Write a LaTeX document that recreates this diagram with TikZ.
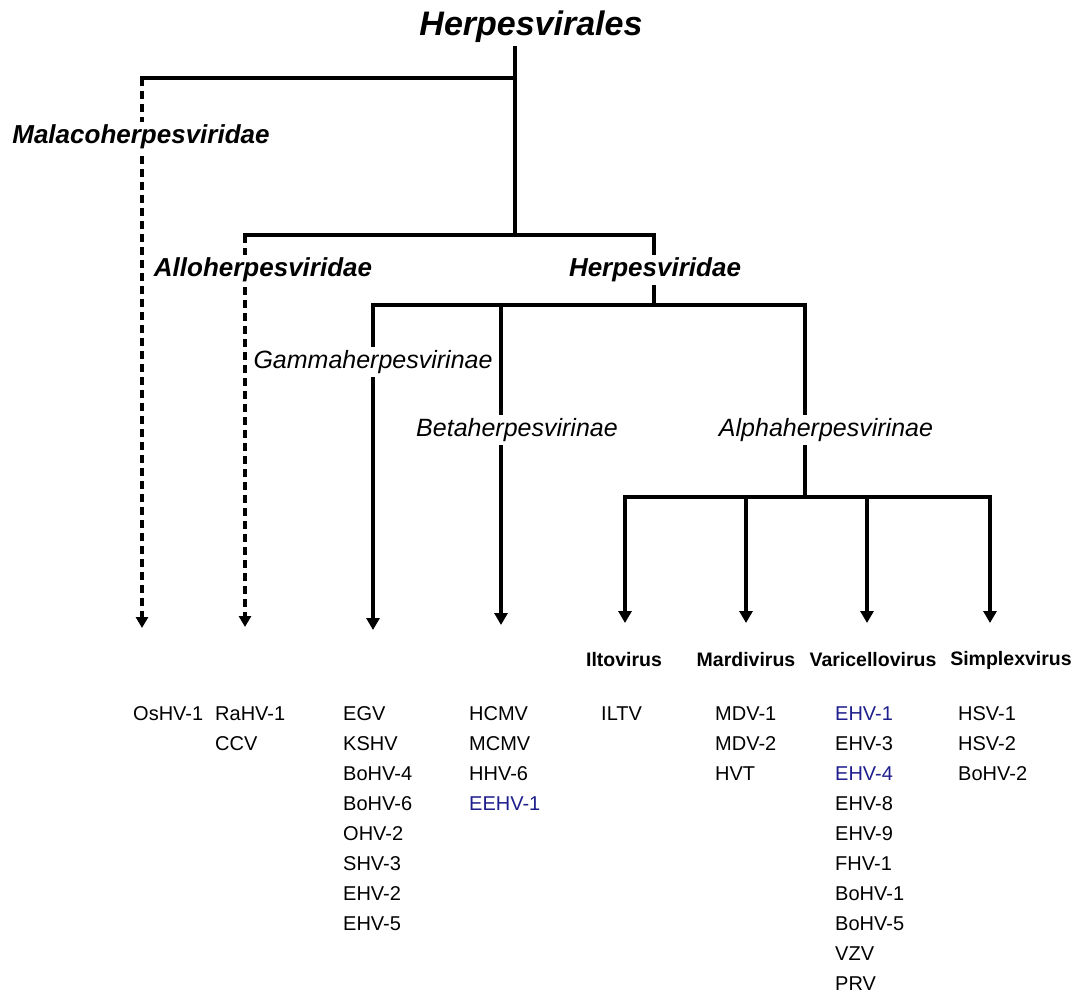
\documentclass[tikz,border=0pt]{standalone}
\usepackage{fontspec}
\setmainfont{Liberation Sans}
\usetikzlibrary{arrows.meta}
\definecolor{virblue}{RGB}{30,30,140}
\tikzset{
  branch/.style={line width=4pt, line cap=rect},
  solidarrow/.style={line width=4pt, -{Triangle[width=13pt,length=12pt]}},
  dasharrow/.style={line width=3.5pt, dash pattern=on 8pt off 5pt, -{Triangle[width=12pt,length=11pt]}},
  famlabel/.style={fill=white, inner sep=3pt, font=\fontsize{26}{30}\selectfont\bfseries\itshape},
  sublabel/.style={fill=white, inner sep=3pt, font=\fontsize{25}{30}\selectfont\itshape},
  genlabel/.style={inner sep=0pt, font=\fontsize{19.5}{24}\selectfont\bfseries},
  species/.style={inner sep=0pt, anchor=west, font=\fontsize{20}{24}\selectfont}
}
\begin{document}
\begin{tikzpicture}[x=1pt, y=-1pt]
    \useasboundingbox (0,0) rectangle (1075,998);

    % junctions of the tree
    \coordinate (rtop) at (515,48);
    \coordinate (r1) at (515,78);
    \coordinate (malj) at (142,78);
    \coordinate (maltip) at (142,628);
    \coordinate (r2) at (515,235);
    \coordinate (allj) at (245,235);
    \coordinate (alltip) at (245,627);
    \coordinate (herj) at (654,235);
    \coordinate (herb) at (654,305);
    \coordinate (gamj) at (373,305);
    \coordinate (gamtip) at (373,630);
    \coordinate (betj) at (501,305);
    \coordinate (bettip) at (501,625);
    \coordinate (alpj) at (805,305);
    \coordinate (alpb) at (805,497);
    \coordinate (iltj) at (625,497);
    \coordinate (iltip) at (625,623);
    \coordinate (marj) at (746,497);
    \coordinate (martip) at (746,623);
    \coordinate (varj) at (867,497);
    \coordinate (vartip) at (867,623);
    \coordinate (simj) at (990,497);
    \coordinate (simtip) at (990,623);

    % branches
    \draw[branch] (rtop) -- (r2);
    \draw[branch] (malj) -- (r1);
    \draw[branch] (allj) -- (herj);
    \draw[branch] (herj) -- (herb);
    \draw[branch] (gamj) -- (alpj);
    \draw[branch] (alpj) -- (alpb);
    \draw[branch] (iltj) -- (simj);

    \draw[dasharrow] (malj) -- (maltip);
    \draw[dasharrow] (allj) -- (alltip);
    \draw[solidarrow] (gamj) -- (gamtip);
    \draw[solidarrow] (betj) -- (bettip);
    \draw[solidarrow] (iltj) -- (iltip);
    \draw[solidarrow] (marj) -- (martip);
    \draw[solidarrow] (varj) -- (vartip);
    \draw[solidarrow] (simj) -- (simtip);

    % taxon labels
    \node[font=\fontsize{34}{40}\selectfont\bfseries\itshape, inner sep=0pt] (order) at (531,27) {Herpesvirales};
    \node[famlabel] (malaco) at (141,137) {Malacoherpesviridae};
    \node[famlabel] (allo) at (263,270) {Alloherpesviridae};
    \node[famlabel] (herpes) at (655,270) {Herpesviridae};
    \node[sublabel] (gamma) at (373,362) {Gammaherpesvirinae};
    \node[sublabel] (beta) at (517,430) {Betaherpesvirinae};
    \node[sublabel] (alpha) at (826,430) {Alphaherpesvirinae};

    \node[genlabel] (ilto) at (624,660) {Iltovirus};
    \node[genlabel] (mardi) at (746,660) {Mardivirus};
    \node[genlabel] (varic) at (873,660) {Varicellovirus};
    \node[genlabel] (simplex) at (1011,660) {Simplexvirus};

    % species lists
    \node[species] (os-1) at (133,714) {OsHV-1};
    \foreach \sp [count=\i] in {RaHV-1, CCV}
        \node[species] (allo-\i) at (215,{684+30*\i}) {\sp};
    \foreach \sp [count=\i] in {EGV, KSHV, BoHV-4, BoHV-6, OHV-2, SHV-3, EHV-2, EHV-5}
        \node[species] (gam-\i) at (343,{684+30*\i}) {\sp};
    \foreach \sp/\col [count=\i] in {HCMV/black, MCMV/black, HHV-6/black, EEHV-1/virblue}
        \node[species, text=\col] (bet-\i) at (469,{684+30*\i}) {\sp};
    \node[species] (ilt-1) at (601,714) {ILTV};
    \foreach \sp [count=\i] in {MDV-1, MDV-2, HVT}
        \node[species] (mar-\i) at (715,{684+30*\i}) {\sp};
    \foreach \sp/\col [count=\i] in {EHV-1/virblue, EHV-3/black, EHV-4/virblue, EHV-8/black, EHV-9/black, FHV-1/black, BoHV-1/black, BoHV-5/black, VZV/black, PRV/black}
        \node[species, text=\col] (var-\i) at (835,{684+30*\i}) {\sp};
    \foreach \sp [count=\i] in {HSV-1, HSV-2, BoHV-2}
        \node[species] (sim-\i) at (958,{684+30*\i}) {\sp};
\end{tikzpicture}
\end{document}
